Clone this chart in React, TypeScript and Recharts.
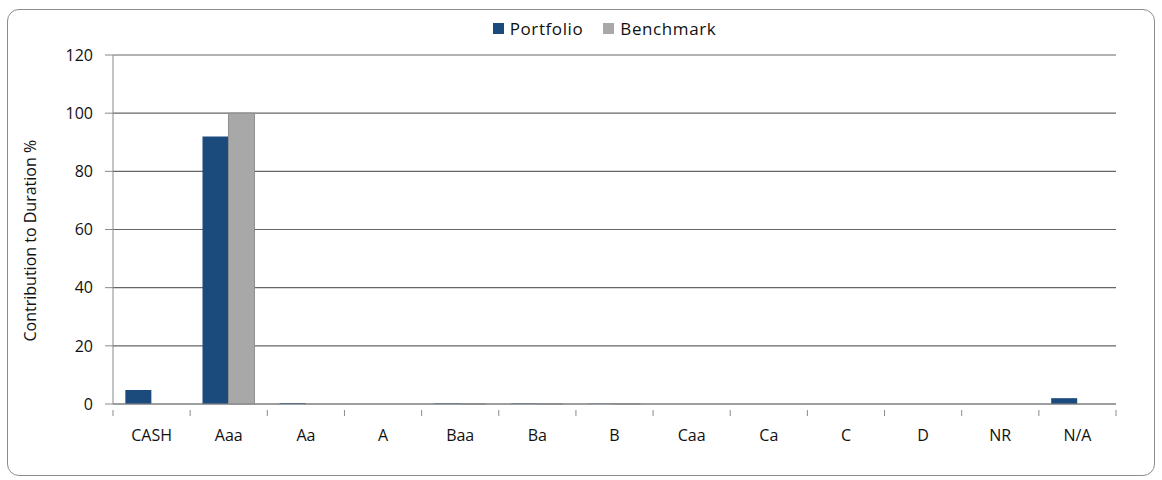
import { BarChart, Bar, XAxis, YAxis, CartesianGrid, Legend } from 'recharts';

const ratings = ['CASH', 'Aaa', 'Aa', 'A', 'Baa', 'Ba', 'B', 'Caa', 'Ca', 'C', 'D', 'NR', 'N/A'];
const portfolio = [4.8, 92, 0.3, 0, 0.2, 0.2, 0.1, 0, 0, 0, 0, 0, 2];
const benchmark = [0, 100, 0, 0, 0.1, 0.1, 0.1, 0, 0, 0, 0, 0, 0];
const yTicks = [0, 20, 40, 60, 80, 100, 120];

const data = ratings.map((name, i) => ({
  name,
  portfolio: portfolio[i],
  benchmark: benchmark[i],
}));

const font = '"Open Sans", Lato, sans-serif';
const axisGray = '#8a8a8a';
const textColor = '#111';

const renderLegend = () => (
  <div
    style={{
      display: 'flex',
      justifyContent: 'center',
      gap: 20,
      fontFamily: font,
      fontSize: 17,
      letterSpacing: 0.6,
      color: textColor,
      paddingLeft: 40,
    }}
  >
    <span style={{ display: 'flex', alignItems: 'center' }}>
      <span style={{ width: 11, height: 11, background: '#1b4a7c', marginRight: 6 }} />
      Portfolio
    </span>
    <span style={{ display: 'flex', alignItems: 'center' }}>
      <span style={{ width: 11, height: 11, background: '#a8a8a8', marginRight: 6 }} />
      Benchmark
    </span>
  </div>
);

// category label plus Excel-style tick marks on the band boundaries
const CategoryTick = (props: any) => {
  const { x, y, payload, index } = props;
  const half = payload.offset ?? 0;
  const last = index === ratings.length - 1;
  return (
    <g>
      <line x1={x - half} x2={x - half} y1={y - 8} y2={y - 2} stroke={axisGray} />
      {last && <line x1={x + half} x2={x + half} y1={y - 8} y2={y - 2} stroke={axisGray} />}
      <text
        x={x}
        y={y + 23}
        textAnchor="middle"
        fontSize={16}
        fill={textColor}
        fontFamily={font}
      >
        {payload.value}
      </text>
    </g>
  );
};

export default function App() {
  return (
    <div style={{ position: 'absolute', left: 0, top: 0, width: 1162, height: 480, background: '#fff' }}>
      <div
        style={{
          position: 'absolute',
          left: 7,
          top: 9,
          width: 1146,
          height: 465,
          border: '1.5px solid #8c8c8c',
          borderRadius: 12,
        }}
      />
      <BarChart
        width={1162}
        height={480}
        data={data}
        margin={{ top: 32, right: 46, bottom: 36, left: 53 }}
        barCategoryGap="16%"
        barGap={0}
        style={{ position: 'absolute', left: 0, top: 0 }}
      >
        <CartesianGrid vertical={false} stroke="#666" strokeWidth={1.2} />
        <XAxis
          dataKey="name"
          interval={0}
          tickLine={false}
          axisLine={{ stroke: axisGray }}
          tick={<CategoryTick />}
          tickMargin={8}
          height={40}
        />
        <YAxis
          domain={[0, 120]}
          ticks={yTicks}
          width={60}
          axisLine={{ stroke: axisGray }}
          tickLine={{ stroke: axisGray }}
          tickSize={8}
          tickMargin={12}
          tick={{ fontSize: 16, fill: textColor, fontFamily: font }}
          label={{
            value: 'Contribution to Duration %',
            angle: -90,
            position: 'insideLeft',
            dx: -28,
            dy: 112,
            style: { fontSize: 16, fill: textColor, fontFamily: font },
          }}
        />
        <Legend verticalAlign="top" content={renderLegend} wrapperStyle={{ top: 17 }} />
        <Bar dataKey="portfolio" name="Portfolio" fill="#1b4a7c" isAnimationActive={false} />
        <Bar dataKey="benchmark" name="Benchmark" fill="#a8a8a8" stroke="#8f8f8f" isAnimationActive={false} />
      </BarChart>
    </div>
  );
}
